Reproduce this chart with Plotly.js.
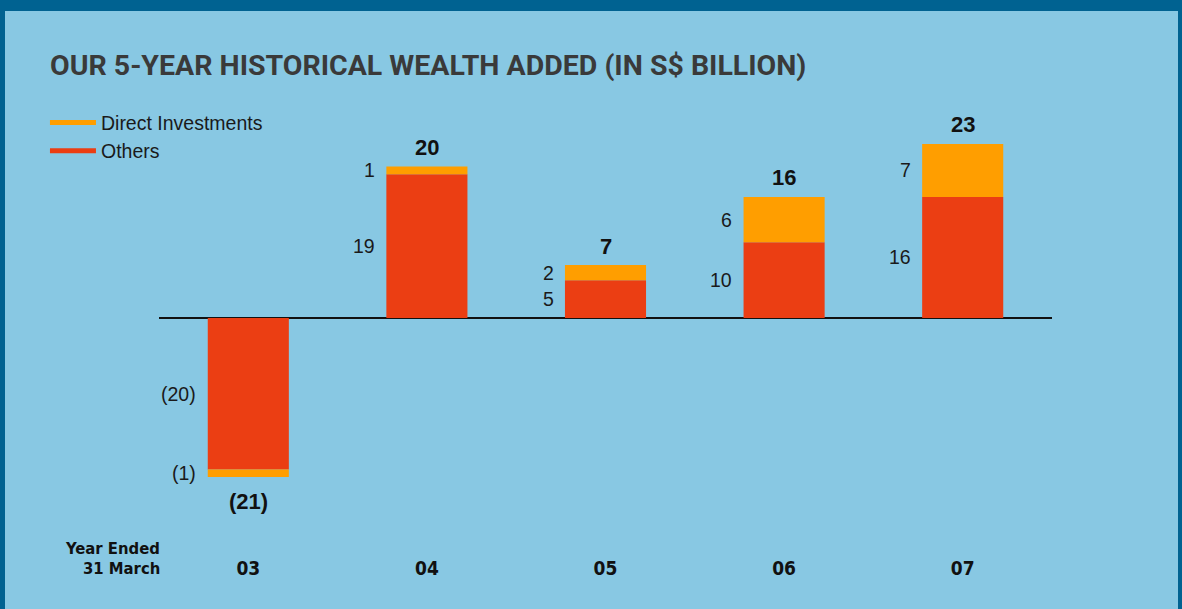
<!DOCTYPE html>
<html>
<head>
<meta charset="utf-8">
<script src="https://cdn.plot.ly/plotly-3.0.1.min.js"></script>
<style>
  html, body { margin: 0; padding: 0; }
  body { width: 1182px; height: 609px; background: #006291; position: relative; overflow: hidden; }
  #chart { position: absolute; left: 5px; top: 11px; width: 1173px; height: 598px; }
</style>
</head>
<body>
<div id="chart"></div>
<script>
// ---- data (S$ billion, year ended 31 March) ----
const years = ['03', '04', '05', '06', '07'];
const others = [-20, 19, 5, 10, 16];
const directInvestments = [-1, 1, 2, 6, 7];
const totals = [-21, 20, 7, 16, 23];

const seriesNames = ['Direct Investments', 'Others'];
const titleText = 'OUR 5-YEAR HISTORICAL WEALTH ADDED (IN S$ BILLION)';
const axisNote = ['Year Ended', '31 March'];

// ---- styles ----
const BG = '#88c8e3';
const ORANGE = '#ff9e00';
const RED = '#eb3e13';
const TXT = '#1a1a1a';
const REG = 'Liberation Sans, Arial, sans-serif';
const NARROW = 'Liberation Sans Narrow, DejaVu Sans Condensed, Arial Narrow, sans-serif';

function fmt(v) { return v < 0 ? '(' + Math.abs(v) + ')' : String(v); }

const idx = years.map((_, i) => i);

const traces = [
  { type: 'bar', name: seriesNames[1], x: idx, y: others, width: 0.454,
    marker: { color: RED, line: { width: 0 } }, showlegend: false, hoverinfo: 'skip' },
  { type: 'bar', name: seriesNames[0], x: idx, y: directInvestments, width: 0.454,
    marker: { color: ORANGE, line: { width: 0 } }, showlegend: false, hoverinfo: 'skip' },
  // legend entries drawn as short lines
  { type: 'scatter', mode: 'lines', name: seriesNames[0], x: [null], y: [null],
    line: { color: ORANGE, width: 5 }, hoverinfo: 'skip' },
  { type: 'scatter', mode: 'lines', name: seriesNames[1], x: [null], y: [null],
    line: { color: RED, width: 5 }, hoverinfo: 'skip' }
];

const annotations = [];
idx.forEach(i => {
  // segment labels, left of each bar
  annotations.push({ x: i, y: others[i] / 2, xref: 'x', yref: 'y', text: fmt(others[i]),
    showarrow: false, xanchor: 'right', yanchor: 'middle', xshift: -50,
    font: { family: REG, size: 19.5, color: TXT } });
  annotations.push({ x: i, y: others[i] + directInvestments[i] / 2, xref: 'x', yref: 'y',
    text: fmt(directInvestments[i]), showarrow: false, xanchor: 'right', yanchor: 'middle',
    xshift: -50, font: { family: REG, size: 19.5, color: TXT } });
  // totals
  annotations.push({ x: i, y: totals[i], xref: 'x', yref: 'y', text: '<b>' + fmt(totals[i]) + '</b>',
    showarrow: false, xanchor: 'center', yanchor: 'middle', yshift: totals[i] < 0 ? -25 : 19,
    font: { family: REG, size: 22, color: '#111' } });
});
// "Year Ended / 31 March"
annotations.push({ x: 0, xref: 'paper', y: -0.007, yref: 'paper', text: '<b>' + axisNote[0] + '</b>',
  showarrow: false, xanchor: 'right', yanchor: 'middle', xshift: 3,
  font: { family: NARROW, size: 16.5, color: '#111' } });
annotations.push({ x: 0, xref: 'paper', y: -0.053, yref: 'paper', text: '<b>' + axisNote[1] + '</b>',
  showarrow: false, xanchor: 'right', yanchor: 'middle', xshift: 3,
  font: { family: NARROW, size: 16.5, color: '#111' } });

const layout = {
  width: 1173, height: 598,
  margin: { l: 154, r: 126, t: 99, b: 64 },
  paper_bgcolor: BG, plot_bgcolor: BG,
  barmode: 'relative', bargap: 0.5,
  title: {
    text: '<b>' + titleText + '</b>',
    xref: 'container', yref: 'container', x: 45 / 1173, y: 1 - 54 / 598,
    xanchor: 'left', yanchor: 'middle',
    font: { family: 'Roboto, ' + REG, size: 28.5, color: '#3a3a3a' }
  },
  xaxis: {
    range: [-0.5, 4.5], tickvals: idx, ticktext: years.map(y => '<b>' + y + '</b>'),
    showgrid: false, zeroline: false, showline: false, ticks: '',
    tickfont: { family: NARROW, size: 19, color: '#111' }, ticklabelstandoff: 10,
    fixedrange: true
  },
  yaxis: {
    range: [-29.99, 27.48], showgrid: false, showticklabels: false, ticks: '',
    zeroline: true, zerolinecolor: '#111', zerolinewidth: 1.5, showline: false,
    fixedrange: true
  },
  showlegend: true,
  legend: {
    x: -0.1277, y: 1.0155, xanchor: 'left', yanchor: 'top',
    bgcolor: 'rgba(0,0,0,0)', borderwidth: 0, traceorder: 'normal',
    itemwidth: 46,
    font: { family: REG, size: 19.5, color: TXT }
  },
  annotations: annotations
};

Plotly.newPlot('chart', traces, layout, { displayModeBar: false, staticPlot: true });
</script>
</body>
</html>
